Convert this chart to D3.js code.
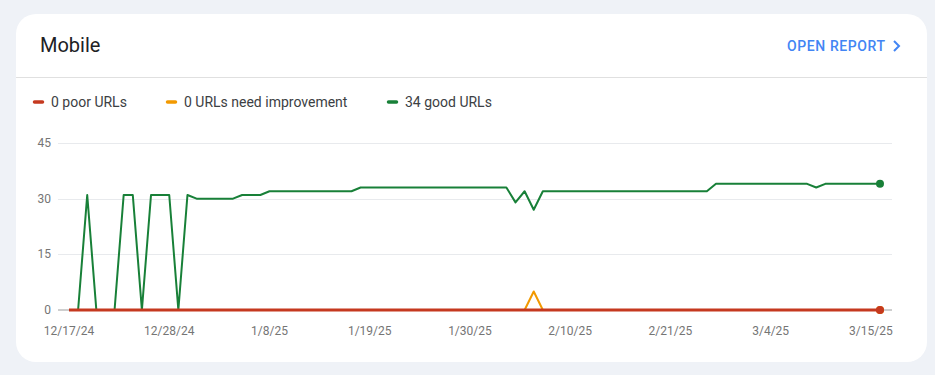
<!DOCTYPE html>
<html>
<head>
<meta charset="utf-8">
<script src="https://cdn.jsdelivr.net/npm/d3@7"></script>
<style>
  body { margin: 0; background: #eff2f7; font-family: Roboto, "Noto Sans", sans-serif; }
  svg { display: block; }
</style>
</head>
<body>
<div id="chart"></div>
<script>
const startDate = new Date(2024, 11, 17);
const endDate = new Date(2025, 2, 16);

const goodUrls = [
  0, 0, 31, 0, 0, 0, 31, 31, 0, 31,
  31, 31, 0, 31, 30, 30, 30, 30, 30, 31,
  31, 31, 32, 32, 32, 32, 32, 32, 32, 32,
  32, 32, 33, 33, 33, 33, 33, 33, 33, 33,
  33, 33, 33, 33, 33, 33, 33, 33, 33, 29,
  32, 27, 32, 32, 32, 32, 32, 32, 32, 32,
  32, 32, 32, 32, 32, 32, 32, 32, 32, 32,
  32, 34, 34, 34, 34, 34, 34, 34, 34, 34,
  34, 34, 33, 34, 34, 34, 34, 34, 34, 34
];
const needsImprovement = [
  0, 0, 0, 0, 0, 0, 0, 0, 0, 0,
  0, 0, 0, 0, 0, 0, 0, 0, 0, 0,
  0, 0, 0, 0, 0, 0, 0, 0, 0, 0,
  0, 0, 0, 0, 0, 0, 0, 0, 0, 0,
  0, 0, 0, 0, 0, 0, 0, 0, 0, 0,
  0, 5, 0, 0, 0, 0, 0, 0, 0, 0,
  0, 0, 0, 0, 0, 0, 0, 0, 0, 0,
  0, 0, 0, 0, 0, 0, 0, 0, 0, 0,
  0, 0, 0, 0, 0, 0, 0, 0, 0, 0
];
const poorUrls = [
  0, 0, 0, 0, 0, 0, 0, 0, 0, 0,
  0, 0, 0, 0, 0, 0, 0, 0, 0, 0,
  0, 0, 0, 0, 0, 0, 0, 0, 0, 0,
  0, 0, 0, 0, 0, 0, 0, 0, 0, 0,
  0, 0, 0, 0, 0, 0, 0, 0, 0, 0,
  0, 0, 0, 0, 0, 0, 0, 0, 0, 0,
  0, 0, 0, 0, 0, 0, 0, 0, 0, 0,
  0, 0, 0, 0, 0, 0, 0, 0, 0, 0,
  0, 0, 0, 0, 0, 0, 0, 0, 0, 0
];
const yTicks = [0, 15, 30, 45];
const xTickLabels = ["12/17/24", "12/28/24", "1/8/25", "1/19/25", "1/30/25", "2/10/25", "2/21/25", "3/4/25", "3/15/25"];

const series = [
  { name: "good", label: "34 good URLs", values: goodUrls, color: "#188038", width: 2 },
  { name: "needs", label: "0 URLs need improvement", values: needsImprovement, color: "#f29900", width: 2 },
  { name: "poor", label: "0 poor URLs", values: poorUrls, color: "#c5391f", width: 3 }
];
const legendOrder = ["poor", "needs", "good"];

const W = 935, H = 375;
const dates = d3.timeDay.range(startDate, d3.timeDay.offset(endDate, 1));
const parseTick = d3.timeParse("%m/%d/%y");

const svg = d3.select("#chart").append("svg").attr("width", W).attr("height", H);

// card
svg.append("rect")
  .attr("x", 16).attr("y", 14).attr("width", 911).attr("height", 348)
  .attr("rx", 20).attr("fill", "#fff");

svg.append("text")
  .attr("x", 40).attr("y", 52)
  .attr("font-size", 20).attr("fill", "#202124")
  .text("Mobile");

svg.append("text")
  .attr("x", 787).attr("y", 51)
  .attr("font-size", 14).attr("font-weight", 500)
  .attr("letter-spacing", "0.6px").attr("fill", "#4285f4")
  .text("OPEN REPORT");

svg.append("path")
  .attr("d", "M894,41 L899,46 L894,51")
  .attr("fill", "none").attr("stroke", "#4285f4").attr("stroke-width", 2);

svg.append("line")
  .attr("x1", 16).attr("x2", 927).attr("y1", 77.5).attr("y2", 77.5)
  .attr("stroke", "#e0e0e0");

// legend
const legendX = { poor: 33, needs: 166, good: 387 };
const legend = svg.selectAll(".legend")
  .data(legendOrder.map((k) => series.find((s) => s.name === k)))
  .enter().append("g")
  .attr("class", "legend")
  .attr("transform", (d) => `translate(${legendX[d.name]},102)`);

legend.append("line")
  .attr("x1", 1.5).attr("x2", 9.5).attr("y1", 0).attr("y2", 0)
  .attr("stroke", (d) => d.color).attr("stroke-width", 3.5)
  .attr("stroke-linecap", "round");

legend.append("text")
  .attr("x", 18).attr("y", 5)
  .attr("font-size", 14).attr("fill", "#3c4043")
  .text((d) => d.label);

// plot
const x = d3.scaleTime().domain([startDate, endDate]).range([69, 880]);
const y = d3.scaleLinear().domain([0, 45]).range([310, 143]);

svg.append("g")
  .selectAll("line")
  .data(yTicks.filter((t) => t > 0))
  .enter().append("line")
  .attr("x1", 58).attr("x2", 892)
  .attr("y1", (d) => Math.round(y(d)) + 0.5).attr("y2", (d) => Math.round(y(d)) + 0.5)
  .attr("stroke", "#e8eaed");

svg.append("line")
  .attr("x1", 58).attr("x2", 892).attr("y1", y(0)).attr("y2", y(0))
  .attr("stroke", "#9e9e9e");

svg.append("g")
  .selectAll("text")
  .data(yTicks)
  .enter().append("text")
  .attr("x", 51).attr("y", (d) => y(d) + 4)
  .attr("text-anchor", "end")
  .attr("font-size", 12).attr("fill", "#757575")
  .text((d) => d);

svg.append("g")
  .selectAll("text")
  .data(xTickLabels)
  .enter().append("text")
  .attr("x", (d) => x(parseTick(d)))
  .attr("y", 335)
  .attr("text-anchor", "middle")
  .attr("font-size", 12).attr("fill", "#757575")
  .text((d) => d);

const line = d3.line()
  .x((d) => x(d.date))
  .y((d) => y(d.value));

series.forEach((s) => {
  const pts = dates.map((date, i) => ({ date: date, value: s.values[i] }));
  svg.append("path")
    .datum(pts)
    .attr("fill", "none")
    .attr("stroke", s.color)
    .attr("stroke-width", s.width)
    .attr("stroke-linejoin", "round")
    .attr("d", line);
  const last = pts[pts.length - 1];
  svg.append("circle")
    .attr("cx", x(last.date)).attr("cy", y(last.value))
    .attr("r", 4).attr("fill", s.color);
});
</script>
</body>
</html>
